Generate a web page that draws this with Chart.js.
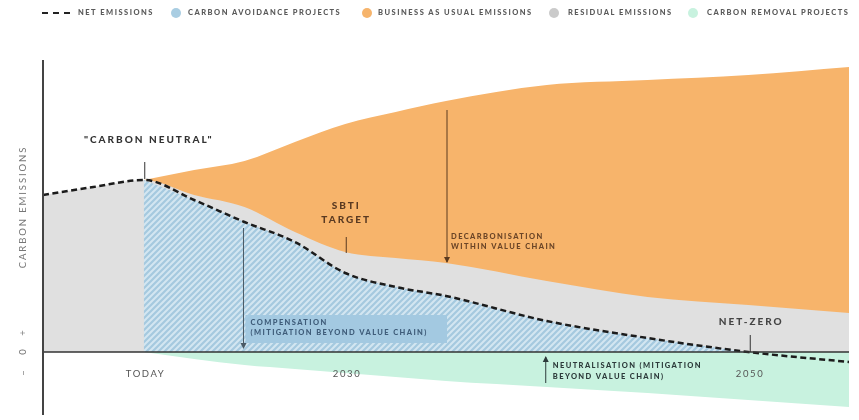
<!DOCTYPE html>
<html><head><meta charset="utf-8">
<script src="https://cdn.jsdelivr.net/npm/chart.js@4/dist/chart.umd.min.js"></script>
<style>
html,body{margin:0;padding:0;background:#fff;}
#wrap{position:relative;width:859px;height:420px;overflow:hidden;}
canvas{position:absolute;left:0;top:0;}
.lg{position:absolute;top:8px;font-family:Lato,"Open Sans",sans-serif;font-weight:900;font-size:7.5px;letter-spacing:1.5px;color:#5a5a5a;line-height:10px;white-space:nowrap;}
.dot{position:absolute;top:8px;width:10px;height:10px;border-radius:50%;}
.dash{position:absolute;top:12px;left:42px;width:28px;height:0;border-top:2px dashed #222;}
</style></head>
<body><div id="wrap">
<canvas id="c" width="859" height="420"></canvas>
<div class="dash"></div><span class="lg" style="left:78px">NET EMISSIONS</span>
<div class="dot" style="left:171px;background:#a9cde2"></div><span class="lg" style="left:188px">CARBON AVOIDANCE PROJECTS</span>
<div class="dot" style="left:362px;background:#f6b46c"></div><span class="lg" style="left:378px">BUSINESS AS USUAL EMISSIONS</span>
<div class="dot" style="left:549px;background:#cacaca"></div><span class="lg" style="left:568px">RESIDUAL EMISSIONS</span>
<div class="dot" style="left:688px;background:#c8f2df"></div><span class="lg" style="left:707px">CARBON REMOVAL PROJECTS</span>
</div>
<script>
// ---- data ----
const years         = [2015, 2017.5, 2020, 2022.5, 2025, 2027.5, 2030, 2032.5, 2035, 2040, 2045, 2050, 2055];
const netEmissions  = [15.7, 16.5, 17.2, 15.2, 13.0, 11.0, 7.9, 6.5, 5.6, 3.1, 1.4, 0.0, -1.0];
const residualTop   = [15.7, 16.5, 17.2, 15.7, 14.5, 12.0, 10.0, 9.4, 8.9, 7.1, 5.5, 4.7, 3.9];
const businessAsUsual = [null, null, 17.2, 18.2, 19.1, 21.0, 22.8, 24.0, 25.1, 26.7, 27.2, 27.7, 28.5];
const avoidance     = [null, null, 17.2, 15.2, 13.0, 11.0, 7.9, 6.5, 5.6, 3.1, 1.4, 0.0, null];
const removal       = [null, null, 0.0, -0.7, -1.3, -1.7, -2.1, -2.5, -2.9, -3.5, -4.1, -4.8, -5.5];
const xTickYears    = [2020, 2030, 2050];
const xTickLabels   = ['TODAY', '2030', '2050'];
const yMin = -6.3, yMax = 29.2, xMin = 2015, xMax = 2055;

function pts(arr){ return years.map((y,i)=>({x:y, y:arr[i]})); }

// hatch pattern
function hatch(){
  const s = 6, c = document.createElement('canvas'); c.width = s; c.height = s;
  const g = c.getContext('2d');
  g.fillStyle = '#d3e6f1'; g.fillRect(0,0,s,s);
  g.strokeStyle = '#a5c9df'; g.lineWidth = 2.2;
  g.beginPath();
  g.moveTo(-1,1); g.lineTo(1,-1);
  g.moveTo(0,s); g.lineTo(s,0);
  g.moveTo(s-1,s+1); g.lineTo(s+1,s-1);
  g.stroke();
  return document.getElementById('c').getContext('2d').createPattern(c,'repeat');
}

const FONT = 'Lato, "Open Sans", sans-serif';
function txt(ctx, s, x, y, opt){
  ctx.save();
  ctx.font = opt.font; ctx.fillStyle = opt.color;
  const ls = (opt.ls===undefined?1:opt.ls);
  ctx.letterSpacing = ls + 'px';
  ctx.textAlign = 'left'; ctx.textBaseline = 'middle';
  let dx = 0;
  if (opt.align === 'center') dx = -(ctx.measureText(s).width - ls)/2;
  ctx.fillText(s, x + dx, y);
  ctx.restore();
}
function vline(ctx, x, y1, y2, color, w){
  ctx.save(); ctx.strokeStyle = color; ctx.lineWidth = w||1;
  ctx.beginPath(); ctx.moveTo(x,y1); ctx.lineTo(x,y2); ctx.stroke(); ctx.restore();
}
function arrow(ctx, x, y1, y2, color){
  vline(ctx, x, y1, y2, color, 1);
  const d = y2 > y1 ? 1 : -1;
  ctx.save(); ctx.fillStyle = color; ctx.beginPath();
  ctx.moveTo(x, y2 + d); ctx.lineTo(x-3, y2 - 5*d); ctx.lineTo(x+3, y2 - 5*d); ctx.closePath(); ctx.fill(); ctx.restore();
}

const annot = {
  id: 'annot',
  afterDatasetsDraw(chart){
    const ctx = chart.ctx, xs = chart.scales.x, ys = chart.scales.y, a = chart.chartArea;
    const X = v => xs.getPixelForValue(v), Y = v => ys.getPixelForValue(v);
    const small = {font:'900 7.5px '+FONT, ls:1.4};
    // compensation box
    ctx.save(); ctx.fillStyle = '#a3c9e1';
    ctx.fillRect(X(2025.05), Y(3.7), X(2035.05)-X(2025.05), Y(0.9)-Y(3.7)); ctx.restore();
    txt(ctx, 'COMPENSATION', X(2025.3), Y(2.9), Object.assign({color:'#3f5d7a'}, small));
    txt(ctx, '(MITIGATION BEYOND VALUE CHAIN)', X(2025.3), Y(1.9), Object.assign({color:'#3f5d7a'}, small));
    arrow(ctx, X(2024.95), Y(12.4), Y(0.4), '#4a5a66');
    // axes
    ctx.save(); ctx.strokeStyle = '#333'; ctx.lineWidth = 1.5;
    ctx.beginPath(); ctx.moveTo(a.left, Y(0)); ctx.lineTo(a.right, Y(0)); ctx.stroke();
    ctx.lineWidth = 2; ctx.strokeStyle = '#444';
    ctx.beginPath(); ctx.moveTo(a.left, a.top); ctx.lineTo(a.left, a.bottom); ctx.stroke(); ctx.restore();
    // labels
    const big = {font:'900 10px '+FONT, ls:2, align:'center'};
    txt(ctx, '"CARBON NEUTRAL"', X(2020.2), Y(21.2), Object.assign({color:'#333'}, big));
    vline(ctx, X(2020.05), Y(19.0), Y(17.3), '#333', 1);
    txt(ctx, 'SBTI', X(2030.0), Y(14.6), Object.assign({color:'#5a3a22'}, big));
    txt(ctx, 'TARGET', X(2030.0), Y(13.2), Object.assign({color:'#5a3a22'}, big));
    vline(ctx, X(2030.05), Y(11.5), Y(9.9), '#5a3a22', 1);
    arrow(ctx, X(2035.05), Y(24.2), Y(9.0), '#5a3a20');
    txt(ctx, 'DECARBONISATION', X(2035.25), Y(11.5), Object.assign({color:'#6b4527'}, small));
    txt(ctx, 'WITHIN VALUE CHAIN', X(2035.25), Y(10.5), Object.assign({color:'#6b4527'}, small));
    arrow(ctx, X(2039.95), Y(-3.1), Y(-0.5), '#2d3b3b');
    txt(ctx, 'NEUTRALISATION (MITIGATION', X(2040.3), Y(-1.4), Object.assign({color:'#2d3b3b'}, small));
    txt(ctx, 'BEYOND VALUE CHAIN)', X(2040.3), Y(-2.5), Object.assign({color:'#2d3b3b'}, small));
    txt(ctx, 'NET-ZERO', X(2050.1), Y(3.0), Object.assign({color:'#444'}, big));
    vline(ctx, X(2050.1), Y(1.7), Y(0), '#333', 1);
    xTickYears.forEach((yr,i)=> txt(ctx, xTickLabels[i], X(yr)+1, Y(-2.2), {font:'400 9.5px '+FONT, color:'#555', ls:1.6, align:'center'}));
    // y label
    ctx.save(); ctx.translate(23, 0); ctx.rotate(-Math.PI/2);
    txt(ctx, 'CARBON EMISSIONS', -208, 0, {font:'400 9.5px '+FONT, color:'#777', ls:1.9, align:'center'});
    txt(ctx, '–', -Y(-2.1), 0, {font:'400 9.5px '+FONT, color:'#777', ls:0, align:'center'});
    txt(ctx, '0', -Y(0), 0, {font:'400 9.5px '+FONT, color:'#777', ls:0, align:'center'});
    txt(ctx, '+', -Y(1.9), 0, {font:'400 9.5px '+FONT, color:'#777', ls:0, align:'center'});
    ctx.restore();
  }
};

const common = {pointRadius:0, borderWidth:0, cubicInterpolationMode:'monotone', spanGaps:false};
new Chart(document.getElementById('c'), {
  type: 'line',
  data: { datasets: [
    {label:'Net emissions', data: pts(netEmissions), borderColor:'#1c1c1c', borderWidth:2.5, borderDash:[6,3.5], pointRadius:0, fill:false, cubicInterpolationMode:'monotone'},
    Object.assign({label:'Carbon removal projects', data: pts(removal), backgroundColor:'#c8f2df', fill:'origin'}, common),
    Object.assign({label:'Carbon avoidance projects', data: pts(avoidance), backgroundColor: hatch(), fill:'origin'}, common),
    Object.assign({label:'Residual emissions', data: pts(residualTop), backgroundColor:'#e0e0e0', fill:'origin'}, common),
    Object.assign({label:'Business as usual emissions', data: pts(businessAsUsual), backgroundColor:'#f7b46b', fill:'origin'}, common)
  ]},
  options: {
    responsive:false, animation:false, devicePixelRatio:1,
    layout:{padding:{left:43, right:10, top:60, bottom:5}},
    plugins:{legend:{display:false}, tooltip:{enabled:false}},
    scales:{
      x:{type:'linear', min:xMin, max:xMax, display:false},
      y:{min:yMin, max:yMax, display:false}
    }
  },
  plugins:[annot]
});
</script>
</body></html>
